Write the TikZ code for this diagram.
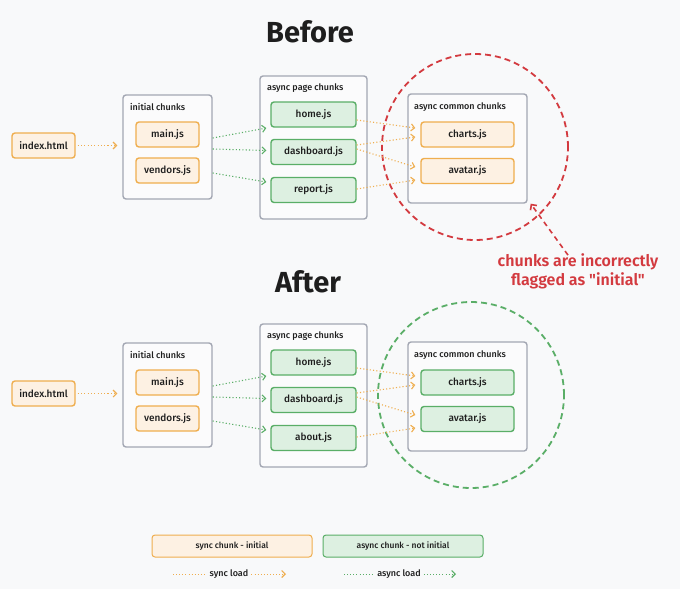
\documentclass[tikz,border=0pt]{standalone}
\usepackage{fontspec}
\setmainfont{Fira Sans}
\newfontfamily\medfont{Fira Sans Medium}
\newfontfamily\notefont{Fira Sans SemiBold}[Ligatures=TeXOff]
\usetikzlibrary{arrows.meta,calc}
\definecolor{bg}{HTML}{F8F9FA}
\definecolor{orfill}{HTML}{FDF1E3}
\definecolor{ordraw}{HTML}{EFAE4F}
\definecolor{grfill}{HTML}{DDF0E1}
\definecolor{grdraw}{HTML}{5AAE67}
\definecolor{boxdraw}{HTML}{A3A7B3}
\definecolor{boxfill}{HTML}{FBFBFC}
\definecolor{redc}{HTML}{D33A3F}
\definecolor{txt}{HTML}{1E1E1E}
\tikzset{
  chunkbox/.style={draw, line width=1.4pt, rounded corners=3pt, minimum height=25pt, inner sep=0pt,
    font=\medfont\fontsize{10}{12}\selectfont, text=txt},
  syncbox/.style={chunkbox, fill=orfill, draw=ordraw},
  asyncbox/.style={chunkbox, fill=grfill, draw=grdraw},
  groupbox/.style={draw=boxdraw, fill=boxfill, line width=1.4pt, rounded corners=3pt, inner sep=0pt},
  grouptitle/.style={anchor=west, font=\medfont\fontsize{9}{11}\selectfont, text=txt, inner sep=0pt},
  tip/.style={-{Straight Barb[length=3.5pt,width=7pt,line width=1.1pt]}},
  syncline/.style={draw=ordraw, line width=1.1pt, dash pattern=on 1.1pt off 2.2pt, tip},
  asyncline/.style={draw=grdraw, line width=1.1pt, dash pattern=on 1.1pt off 2.2pt, tip},
  bigtitle/.style={font=\fontsize{29}{33}\selectfont\bfseries, text=txt, inner sep=0pt},
  ring/.style={circle, minimum size=186pt, line width=1.8pt, dash pattern=on 6pt off 4pt, inner sep=0pt},
  legline/.style={line width=0.9pt, dash pattern=on 0.9pt off 2.2pt},
  legtext/.style={font=\medfont\fontsize{9}{11}\selectfont, text=txt, inner sep=3pt},
}
\newcommand{\drawstage}[6]{% #1 prefix, #2 y offset, #3 third page chunk, #4 common chunk style, #5 ring colour, #6 ring x
\begin{scope}[shift={(0,#2)}]
  \node[syncbox, minimum width=63pt] (#1idx) at (43.5,145.5) {index.html};
  \node[groupbox, minimum width=89pt, minimum height=104pt] (#1init) at (167.5,147) {};
  \node[grouptitle] (#1initt) at (130,107) {initial chunks};
  \node[syncbox, minimum width=63pt] (#1main) at (167.5,134.5) {main.js};
  \node[syncbox, minimum width=63pt] (#1vend) at (167.5,170.5) {vendors.js};
  \node[groupbox, minimum width=107pt, minimum height=143pt] (#1page) at (313.5,147.5) {};
  \node[grouptitle] (#1paget) at (267,88) {async page chunks};
  \node[asyncbox, minimum width=85pt] (#1home) at (313.5,114.5) {home.js};
  \node[asyncbox, minimum width=85pt] (#1dash) at (313.5,152) {dashboard.js};
  \node[asyncbox, minimum width=85pt] (#1third) at (313.5,190) {#3};
  \node[ring, draw=#5] (#1ring) at (#6,147) {};
  \node[groupbox, minimum width=119pt, minimum height=109pt] (#1common) at (467.5,148.5) {};
  \node[grouptitle] (#1commont) at (414,107) {async common chunks};
  \node[#4, minimum width=93pt] (#1charts) at (467.5,134.5) {charts.js};
  \node[#4, minimum width=93pt] (#1avatar) at (467.5,171) {avatar.js};
  \draw[syncline, shorten <=2pt, shorten >=5pt] (#1idx.east) -- (#1idx.east -| #1init.west);
  \draw[asyncline] ([yshift=9pt]#1init.east) -- ([xshift=-4pt,yshift=-13.5pt]#1home.west);
  \draw[asyncline] ([yshift=-2pt]#1init.east) -- ([xshift=-4pt,yshift=1.5pt]#1dash.west);
  \draw[asyncline] ([yshift=-26pt]#1init.east) -- ([xshift=-4pt,yshift=8pt]#1third.west);
  \draw[syncline] ([yshift=-5.5pt]#1home.east) -- ([xshift=-5pt,yshift=6.5pt]#1charts.west);
  \draw[syncline] ([yshift=7pt]#1dash.east) -- ([xshift=-5pt,yshift=-2.5pt]#1charts.west);
  \draw[syncline] ([yshift=3pt]#1dash.east) -- ([xshift=-5pt,yshift=4pt]#1avatar.west);
  \draw[syncline] ([yshift=1pt]#1third.east) -- ([xshift=-5pt,yshift=-9pt]#1avatar.west);
\end{scope}}
\begin{document}
\begin{tikzpicture}[x=1pt,y=-1pt]
  \fill[bg] (0,0) rectangle (680,589);
  \useasboundingbox (0,0) rectangle (680,589);
  \node[bigtitle] (tbefore) at (310,32) {Before};
  \node[bigtitle] (tafter) at (308,282) {After};
  \drawstage{b}{0}{report.js}{syncbox}{redc}{475}
  \drawstage{a}{248}{about.js}{asyncbox}{grdraw}{471}
  \node[text=redc, align=center, font=\notefont\fontsize{16}{19}\selectfont, inner sep=0pt] (note) at (578,271)
    {chunks are incorrectly\\flagged as "initial"};
  \draw[redc, line width=1.6pt, dash pattern=on 5pt off 4pt,
        -{Straight Barb[length=4pt,width=8pt,line width=1.6pt]}]
    ([xshift=-10pt,yshift=-2pt]note.north) -- ([xshift=3pt]bcommon.south east);
  % legend
  \node[syncbox, line width=1pt, minimum width=160pt, minimum height=22pt, font=\medfont\fontsize{8.5}{10}\selectfont] (legsync) at (232,546) {sync chunk - initial};
  \node[asyncbox, line width=1pt, minimum width=160pt, minimum height=22pt, font=\medfont\fontsize{8.5}{10}\selectfont] (legasync) at (403,546) {async chunk - not initial};
  \node[legtext] (lsync) at (229,574) {sync load};
  \node[legtext] (lasync) at (399,574) {async load};
  \coordinate (ls0) at (173,574);
  \coordinate (ls1) at (286,574);
  \coordinate (la0) at (344,574);
  \coordinate (la1) at (456,574);
  \draw[legline, draw=ordraw] (ls0) -- (lsync.west);
  \draw[legline, draw=ordraw, tip] (lsync.east) -- (ls1);
  \draw[legline, draw=grdraw] (la0) -- (lasync.west);
  \draw[legline, draw=grdraw, tip] (lasync.east) -- (la1);
\end{tikzpicture}
\end{document}
